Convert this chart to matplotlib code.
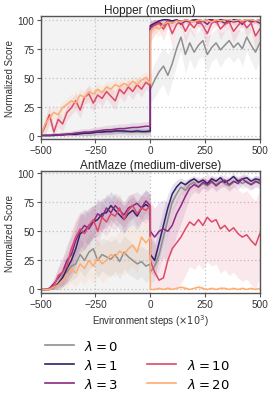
import numpy as np
import matplotlib
matplotlib.use("Agg")
import matplotlib.pyplot as plt
from matplotlib.lines import Line2D

plt.rcParams['font.family'] = ['Liberation Sans', 'DejaVu Sans']
plt.rcParams['axes.unicode_minus'] = True

# ---------------- data ----------------
lambdas = ["0", "1", "3", "10", "20"]
colors = ["#8f8f8f", "#35206a", "#8c2981", "#de4968", "#fdac72"]

x_offline = list(range(-500, 1, 20))   # 26 pts
x_online = list(range(0, 501, 20))     # 26 pts

# Hopper (medium) -- means
hop_off = {
    "0":  [0, 0.5, 0.5, 1, 1, 1, 1.5, 1.5, 2, 2, 2, 2.5, 2.5, 3, 3, 3, 3, 3.5, 3.5, 3, 3.5, 3, 3, 3, 3, 3],
    "1":  [0, 0, 0, 0, 0.5, 0.5, 1, 1, 1, 1.5, 2, 2, 2.5, 3, 3, 3.5, 3.5, 4, 4, 4, 3.5, 3.5, 4, 3.5, 3.5, 4],
    "3":  [0, 0, 0, 0.5, 0.5, 1, 1, 1.5, 2, 2.5, 3, 3, 3.5, 4, 4.5, 5, 5, 5.5, 6, 6, 6.5, 7, 7, 7.5, 8, 8],
    "10": [0, 8, 18, 3, 14, 10, 20, 24, 30, 22, 33, 36, 28, 35, 32, 38, 34, 30, 40, 36, 42, 38, 44, 40, 46, 43],
    "20": [0, 10, 15, 20, 18, 24, 27, 30, 28, 35, 33, 38, 36, 40, 37, 42, 40, 44, 42, 45, 43, 47, 44, 48, 50, 45],
}
hop_on = {
    "0":  [40, 48, 55, 60, 52, 62, 75, 85, 70, 80, 72, 78, 82, 70, 76, 80, 74, 78, 82, 76, 80, 75, 85, 78, 72, 80],
    "1":  [95, 97, 99, 100, 100, 99, 100, 98, 100, 99, 100, 100, 99, 100, 100, 99, 100, 100, 98, 100, 100, 99, 100, 100, 99, 100],
    "3":  [93, 96, 98, 95, 99, 97, 100, 96, 99, 98, 100, 97, 99, 96, 100, 98, 99, 97, 100, 98, 99, 96, 100, 98, 99, 97],
    "10": [90, 95, 97, 92, 98, 88, 96, 99, 90, 97, 93, 99, 95, 88, 97, 99, 92, 96, 98, 90, 95, 99, 93, 97, 86, 92],
    "20": [90, 94, 92, 96, 98, 97, 99, 98, 100, 99, 98, 100, 99, 100, 98, 100, 99, 100, 100, 99, 100, 99, 100, 100, 99, 100],
}
# Hopper -- std
hop_off_sd = {
    "0":  [0, 1, 1, 1.5, 1.5, 2, 2, 2, 2.5, 2.5, 3, 3, 3, 3.5, 3.5, 3.5, 4, 4, 4, 4, 4, 4, 4, 4, 4, 4],
    "1":  [0, 0.5, 0.5, 1, 1, 1, 1.5, 1.5, 1.5, 2, 2, 2, 2, 2, 2.5, 2.5, 2.5, 2.5, 2.5, 2.5, 2.5, 2.5, 2.5, 2.5, 2.5, 2.5],
    "3":  [0, 1, 1, 1.5, 1.5, 2, 2, 2.5, 2.5, 3, 3, 3, 3.5, 3.5, 3.5, 4, 4, 4, 4, 4, 4, 4, 4, 4, 4, 4],
    "10": [0, 8, 8, 6, 7, 6, 7, 6, 8, 7, 6, 7, 8, 6, 7, 6, 7, 8, 6, 7, 6, 7, 6, 7, 6, 6],
    "20": [0, 6, 5, 6, 5, 6, 5, 6, 5, 6, 5, 6, 5, 6, 5, 5, 6, 5, 5, 6, 5, 5, 6, 5, 5, 5],
}
hop_on_sd = {
    "0":  [12, 15, 15, 16, 18, 15, 14, 12, 16, 14, 15, 12, 14, 16, 12, 13, 15, 12, 14, 13, 12, 15, 12, 14, 16, 14],
    "1":  [4, 3, 2, 1, 1, 2, 1, 2, 1, 2, 1, 1, 2, 1, 1, 2, 1, 1, 2, 1, 1, 2, 1, 1, 2, 1],
    "3":  [6, 5, 3, 5, 2, 4, 1, 4, 2, 3, 1, 4, 2, 4, 1, 3, 2, 4, 1, 3, 2, 4, 1, 3, 2, 3],
    "10": [10, 8, 6, 10, 5, 12, 6, 4, 10, 6, 8, 4, 7, 12, 6, 4, 9, 6, 5, 10, 7, 4, 8, 6, 12, 9],
    "20": [8, 6, 7, 5, 3, 4, 2, 3, 1, 2, 3, 1, 2, 1, 3, 1, 2, 1, 1, 2, 1, 2, 1, 1, 2, 1],
}

# AntMaze (medium-diverse) -- means
ant_off = {
    "0":  [0, 0, 0, 2, 5, 12, 15, 20, 22, 30, 25, 32, 35, 25, 30, 28, 26, 30, 24, 32, 28, 25, 22, 24, 20, 22],
    "1":  [0, 0, 0, 2, 5, 10, 18, 25, 35, 48, 50, 55, 58, 60, 65, 66, 72, 68, 64, 60, 65, 68, 63, 70, 73, 70],
    "3":  [0, 0, 1, 5, 10, 15, 25, 30, 42, 50, 55, 52, 58, 65, 62, 70, 66, 72, 68, 64, 70, 72, 74, 70, 76, 72],
    "10": [0, 0, 1, 3, 12, 15, 20, 35, 45, 52, 48, 55, 60, 50, 62, 58, 65, 63, 70, 60, 68, 72, 65, 70, 68, 72],
    "20": [0, 0, 0, 2, 4, 8, 12, 18, 14, 22, 18, 25, 20, 27, 22, 25, 30, 28, 33, 30, 35, 38, 32, 45, 40, 45],
}
ant_on = {
    "0":  [15, 20, 30, 45, 60, 75, 82, 88, 85, 90, 92, 88, 91, 89, 92, 90, 93, 91, 89, 92, 94, 91, 93, 90, 92, 93],
    "1":  [30, 25, 40, 55, 70, 82, 88, 92, 90, 93, 95, 92, 94, 91, 95, 93, 96, 92, 94, 97, 93, 95, 96, 93, 95, 94],
    "3":  [50, 45, 50, 52, 50, 55, 65, 72, 80, 87, 90, 88, 92, 90, 93, 89, 92, 94, 90, 93, 91, 95, 92, 90, 93, 91],
    "10": [25, 15, 8, 10, 25, 35, 40, 45, 52, 58, 55, 60, 55, 62, 58, 60, 52, 55, 50, 53, 48, 45, 47, 42, 38, 48],
    "20": [0, 0, 1, 0, 1, 0, 1, 2, 1, 0, 1, 2, 1, 0, 1, 0, 1, 1, 0, 1, 0, 1, 0, 1, 0, 1],
}
# AntMaze -- std
ant_off_sd = {
    "0":  [0, 0, 1, 3, 5, 8, 10, 12, 12, 14, 14, 15, 15, 15, 14, 15, 15, 14, 15, 14, 15, 14, 14, 13, 14, 13],
    "1":  [0, 0, 1, 3, 6, 8, 12, 14, 16, 16, 16, 15, 14, 14, 13, 13, 12, 12, 12, 12, 12, 12, 12, 12, 12, 12],
    "3":  [0, 0, 2, 5, 8, 12, 14, 16, 16, 15, 14, 14, 13, 13, 12, 12, 12, 11, 11, 11, 11, 10, 10, 10, 10, 10],
    "10": [0, 0, 2, 4, 8, 12, 14, 15, 15, 15, 14, 14, 13, 13, 13, 12, 12, 12, 12, 12, 12, 11, 11, 11, 11, 11],
    "20": [0, 0, 1, 3, 5, 8, 10, 12, 12, 14, 14, 15, 15, 15, 16, 16, 17, 17, 18, 18, 18, 18, 18, 18, 18, 18],
}
ant_on_sd = {
    "0":  [10, 12, 14, 14, 12, 10, 8, 6, 6, 5, 5, 5, 4, 5, 4, 5, 4, 4, 5, 4, 4, 5, 4, 4, 4, 4],
    "1":  [15, 14, 15, 14, 12, 8, 6, 4, 4, 3, 3, 3, 3, 3, 3, 3, 3, 3, 3, 3, 3, 3, 3, 3, 3, 3],
    "3":  [25, 25, 25, 25, 24, 22, 18, 15, 12, 8, 6, 6, 5, 5, 5, 5, 5, 5, 5, 5, 5, 5, 5, 5, 5, 5],
    "10": [30, 25, 15, 20, 30, 35, 38, 40, 40, 38, 38, 38, 38, 38, 38, 38, 38, 38, 38, 38, 38, 38, 38, 38, 38, 38],
    "20": [1, 1, 1, 1, 2, 1, 1, 2, 2, 1, 1, 2, 2, 1, 1, 1, 2, 1, 1, 1, 1, 1, 1, 1, 1, 1],
}

titles = ["Hopper (medium)", "AntMaze (medium-diverse)"]
xticks = [-500, -250, 0, 250, 500]
yticks = [0, 25, 50, 75, 100]

# ---------------- plot ----------------
fig = plt.figure(figsize=(2.74, 4.02), dpi=100)
ax1 = fig.add_axes([0.1485, 0.6517, 0.800, 0.3068])
ax2 = fig.add_axes([0.1485, 0.2687, 0.800, 0.3027])

panels = [
    (ax1, hop_off, hop_on, hop_off_sd, hop_on_sd, (-3, 103.5)),
    (ax2, ant_off, ant_on, ant_off_sd, ant_on_sd, (-3, 101.5)),
]

x_all = np.array(x_offline + x_online, dtype=float)
spine_col = "#555555"

for i, (ax, off, on, off_sd, on_sd, ylim) in enumerate(panels):
    ax.axvspan(-500, 0, color="#f3f3f3", zorder=0, lw=0)
    for lam, c in zip(lambdas, colors):
        m = np.array(off[lam] + on[lam], dtype=float)
        s = np.array(off_sd[lam] + on_sd[lam], dtype=float)
        ax.fill_between(x_all, np.clip(m - s, 0, 100), np.clip(m + s, 0, 100),
                        color=c, alpha=0.12, lw=0, zorder=1)
        ax.plot(x_all, m, color=c, lw=1.1, zorder=2)
    ax.set_xlim(-500, 500)
    ax.set_ylim(*ylim)
    ax.set_xticks(xticks)
    ax.set_yticks(yticks)
    ax.grid(True, ls=(0, (1, 2)), color="#c2c2c2", lw=0.9)
    ax.set_axisbelow(True)
    ax.tick_params(labelsize=7.2, length=3, width=0.8, color=spine_col,
                   labelcolor="#333333", pad=1.5)
    for sp in ax.spines.values():
        sp.set_color(spine_col)
        sp.set_linewidth(1.0)
    ax.set_title(titles[i], fontsize=8.5, pad=1.5, color="#222222")
    ax.set_ylabel("Normalized Score", fontsize=7, color="#333333", labelpad=2)

ax2.set_xlabel(r"Environment steps ($\times 10^3$)", fontsize=7,
               color="#333333", labelpad=2)

handles = [Line2D([], [], color=c, lw=1.2) for c in colors]
labels = [r"$\lambda = %s$" % l for l in lambdas]
blank = Line2D([], [], color="none")
hs = handles[:3] + [blank] + handles[3:]
ls = labels[:3] + [" "] + labels[3:]
fig.legend(hs, ls, loc="upper center", bbox_to_anchor=(0.5, 0.185), ncol=2,
           frameon=False, fontsize=9.5, handlelength=2.2, handletextpad=0.8,
           columnspacing=2.2, labelspacing=0.38)

fig.savefig("out.png", dpi=100)
